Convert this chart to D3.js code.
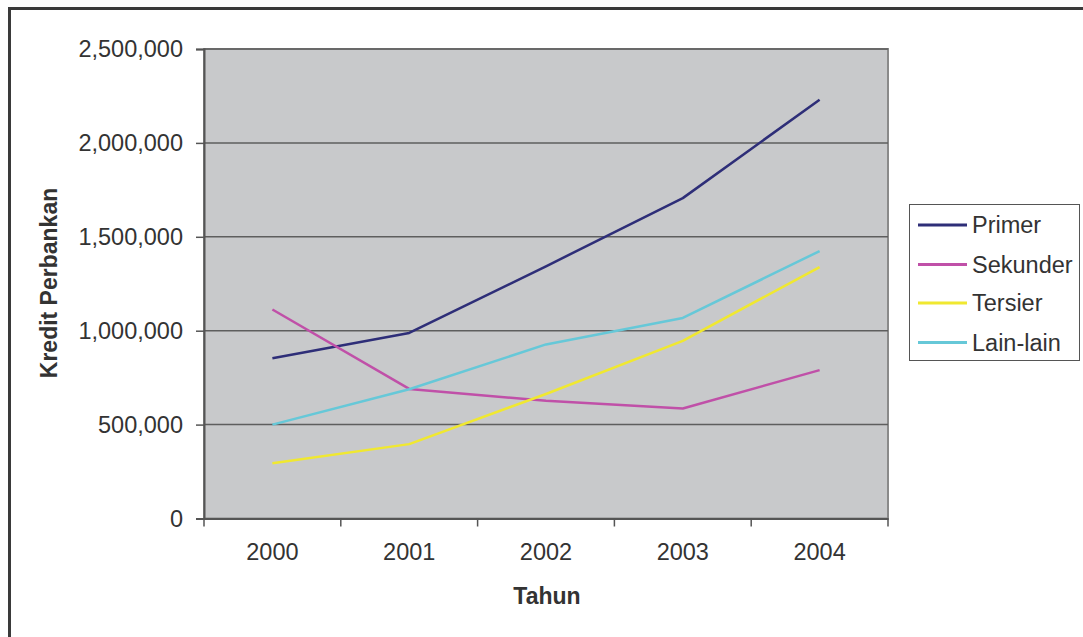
<!DOCTYPE html>
<html>
<head>
<meta charset="utf-8">
<script src="https://cdn.jsdelivr.net/npm/d3@7"></script>
<style>
  html, body { margin: 0; padding: 0; background: #fff; }
  svg { display: block; font-family: "Liberation Sans", Arial, sans-serif; }
</style>
</head>
<body>
<svg id="chart" width="1083" height="637"></svg>
<script>
// Kredit perbankan per sektor, 2000-2004
const years = ["2000", "2001", "2002", "2003", "2004"];
const primer   = [853000, 988000, 1343000, 1706000, 2230000];
const sekunder = [1113000, 690000, 627000, 586000, 790000];
const tersier  = [294000, 396000, 663000, 946000, 1339000];
const lainLain = [500000, 688000, 927000, 1068000, 1424000];
const seriesNames = ["Primer", "Sekunder", "Tersier", "Lain-lain"];
const seriesColors = ["#2e2e78", "#c050a8", "#f0e830", "#66c8d8"];
const yTicks = [0, 500000, 1000000, 1500000, 2000000, 2500000];

const seriesData = [primer, sekunder, tersier, lainLain];

const svg = d3.select("#chart");
const plot = { left: 204, right: 888, top: 49, bottom: 518.5 };
const textColor = "#333";
const labelSize = 23.5;
const titleSize = 23;

// outer frame (top and left edges visible)
svg.append("rect")
  .attr("x", 9.5).attr("y", 8.5)
  .attr("width", 1200).attr("height", 800)
  .attr("fill", "none").attr("stroke", "#3a3a3a").attr("stroke-width", 3);

const x = d3.scaleBand().domain(years).range([plot.left, plot.right]);
const y = d3.scaleLinear().domain([0, 2500000]).range([plot.bottom, plot.top]);

// plot background
svg.append("rect")
  .attr("x", plot.left).attr("y", plot.top)
  .attr("width", plot.right - plot.left).attr("height", plot.bottom - plot.top)
  .attr("fill", "#c8c9cb").attr("stroke", "#8a8a8a").attr("stroke-width", 2);

// horizontal gridlines
svg.append("g")
  .selectAll("line")
  .data(yTicks.filter(d => d > 0))
  .join("line")
  .attr("x1", plot.left).attr("x2", plot.right)
  .attr("y1", d => y(d)).attr("y2", d => y(d))
  .attr("stroke", "#5e5e5e").attr("stroke-width", 1.5);

// y axis
const fmt = d3.format(",");
const yAxis = svg.append("g")
  .attr("transform", `translate(${plot.left},0)`)
  .call(d3.axisLeft(y).tickValues(yTicks).tickFormat(fmt).tickSize(8).tickPadding(13));
yAxis.select(".domain").attr("stroke", "#555").attr("stroke-width", 2);
yAxis.selectAll(".tick line").attr("stroke", "#555").attr("stroke-width", 1.5);
yAxis.selectAll(".tick text")
  .attr("fill", textColor).attr("font-size", labelSize);

// x axis with ticks at band boundaries
const xAxis = svg.append("g")
  .attr("transform", `translate(0,${plot.bottom})`)
  .call(d3.axisBottom(x).tickSize(0).tickPadding(25));
xAxis.select(".domain").attr("stroke", "#555").attr("stroke-width", 2);
xAxis.selectAll(".tick text")
  .attr("fill", textColor).attr("font-size", labelSize);
const boundaries = years.map(d => x(d)).concat([x(years[years.length - 1]) + x.bandwidth()]);
xAxis.selectAll(".boundary")
  .data(boundaries)
  .join("line")
  .attr("class", "boundary")
  .attr("x1", d => d).attr("x2", d => d)
  .attr("y1", 0).attr("y2", 8)
  .attr("stroke", "#555").attr("stroke-width", 1.5);

// axis titles
svg.append("text")
  .attr("x", 547).attr("y", 604)
  .attr("text-anchor", "middle")
  .attr("font-size", titleSize).attr("font-weight", "bold")
  .attr("fill", textColor)
  .text("Tahun");

svg.append("text")
  .attr("transform", "translate(57,283) rotate(-90)")
  .attr("text-anchor", "middle")
  .attr("font-size", titleSize).attr("font-weight", "bold")
  .attr("fill", textColor)
  .text("Kredit Perbankan");

// series lines
const line = d3.line()
  .x((d, i) => x(years[i]) + x.bandwidth() / 2)
  .y(d => y(d));

svg.append("g")
  .selectAll("path")
  .data(seriesData)
  .join("path")
  .attr("d", d => line(d))
  .attr("fill", "none")
  .attr("stroke", (d, i) => seriesColors[i])
  .attr("stroke-width", 2.5)
  .attr("stroke-linejoin", "round");

// legend
const legend = svg.append("g");
legend.append("rect")
  .attr("x", 909.5).attr("y", 204.5)
  .attr("width", 170).attr("height", 156)
  .attr("fill", "#fff").attr("stroke", "#555").attr("stroke-width", 1);

const rowY = [225, 264.5, 303, 342.5];
const rows = legend.selectAll(".row")
  .data(seriesNames)
  .join("g")
  .attr("class", "row")
  .attr("transform", (d, i) => `translate(0,${rowY[i]})`);
rows.append("line")
  .attr("x1", 918).attr("x2", 967)
  .attr("y1", 0).attr("y2", 0)
  .attr("stroke", (d, i) => seriesColors[i])
  .attr("stroke-width", 3);
rows.append("text")
  .attr("x", 972).attr("y", 0)
  .attr("dy", "0.35em")
  .attr("font-size", labelSize)
  .attr("fill", textColor)
  .text(d => d);
</script>
</body>
</html>
